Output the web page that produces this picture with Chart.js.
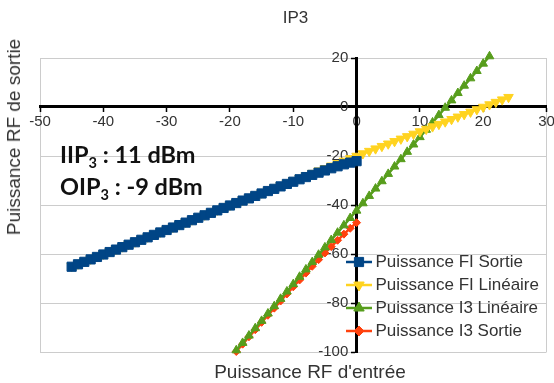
<!DOCTYPE html>
<html><head><meta charset="utf-8">
<script src="https://cdn.jsdelivr.net/npm/chart.js@4/dist/chart.umd.min.js"></script>
<style>
html,body{margin:0;padding:0;background:#fff;}
#wrap{position:relative;width:554px;height:383px;overflow:hidden;}
#c{position:absolute;left:0;top:0;}
.note{position:absolute;left:60px;font-family:Lato,'Open Sans',sans-serif;font-weight:700;font-size:23.5px;line-height:32px;color:#111;white-space:nowrap;}
.note sub{font-size:0.62em;line-height:0;vertical-align:-0.35em;}
.axt{position:absolute;font-family:'Liberation Sans',Arial,sans-serif;font-size:19px;color:#333;white-space:nowrap;transform-origin:50% 50%;}
</style></head><body>
<div id="wrap">
<canvas id="c" width="554" height="383"></canvas>
<div class="note" style="top:138px">IIP<sub>3</sub> : 11 dBm</div>
<div class="note" style="top:170px">OIP<sub>3</sub> : -9 dBm</div>
<div class="axt" id="xt"></div>
<div class="axt" id="yt"></div>
</div>
<script>
const chartTitle = 'IP3';
const xAxisTitle = "Puissance RF d'entrée";
const yAxisTitle = 'Puissance RF de sortie';
const seriesNames = ['Puissance FI Sortie', 'Puissance FI Linéaire', 'Puissance I3 Linéaire', 'Puissance I3 Sortie'];
const xTickValues = [-50, -40, -30, -20, -10, 0, 10, 20, 30];
const yTickValues = [20, 0, -20, -40, -60, -80, -100];

const inFiSortie = [-45,-44,-43,-42,-41,-40,-39,-38,-37,-36,-35,-34,-33,-32,-31,-30,-29,-28,-27,-26,-25,-24,-23,-22,-21,-20,-19,-18,-17,-16,-15,-14,-13,-12,-11,-10,-9,-8,-7,-6,-5,-4,-3,-2,-1,0];
const outFiSortie = [-65.2,-64.2,-63.2,-62.2,-61.2,-60.2,-59.2,-58.2,-57.2,-56.2,-55.2,-54.2,-53.2,-52.2,-51.2,-50.2,-49.2,-48.2,-47.2,-46.2,-45.2,-44.2,-43.2,-42.2,-41.2,-40.2,-39.2,-38.2,-37.3,-36.3,-35.3,-34.3,-33.4,-32.4,-31.4,-30.5,-29.5,-28.6,-27.7,-26.8,-25.9,-25.0,-24.2,-23.4,-22.7,-22.1];

const inFiLin = [-45,-44,-43,-42,-41,-40,-39,-38,-37,-36,-35,-34,-33,-32,-31,-30,-29,-28,-27,-26,-25,-24,-23,-22,-21,-20,-19,-18,-17,-16,-15,-14,-13,-12,-11,-10,-9,-8,-7,-6,-5,-4,-3,-2,-1,0,1,2,3,4,5,6,7,8,9,10,11,12,13,14,15,16,17,18,19,20,21,22,23,24];
const outFiLin = [-65,-64,-63,-62,-61,-60,-59,-58,-57,-56,-55,-54,-53,-52,-51,-50,-49,-48,-47,-46,-45,-44,-43,-42,-41,-40,-39,-38,-37,-36,-35,-34,-33,-32,-31,-30,-29,-28,-27,-26,-25,-24,-23,-22,-21,-20,-19,-18,-17,-16,-15,-14,-13,-12,-11,-10,-9,-8,-7,-6,-5,-4,-3,-2,-1,0,1,2,3,4];

const inI3Lin = [-19,-18,-17,-16,-15,-14,-13,-12,-11,-10,-9,-8,-7,-6,-5,-4,-3,-2,-1,0,1,2,3,4,5,6,7,8,9,10,11,12,13,14,15,16,17,18,19,20,21];
const outI3Lin = [-99.3,-96.3,-93.3,-90.3,-87.3,-84.3,-81.3,-78.3,-75.3,-72.3,-69.3,-66.3,-63.3,-60.3,-57.3,-54.3,-51.3,-48.3,-45.3,-42.3,-39.3,-36.3,-33.3,-30.3,-27.3,-24.3,-21.3,-18.3,-15.3,-12.3,-9.3,-6.3,-3.3,-0.3,2.7,5.7,8.7,11.7,14.7,17.7,20.7];

const inI3Sortie = [-19,-18,-17,-16,-15,-14,-13,-12,-11,-10,-9,-8,-7,-6,-5,-4,-3,-2,-1,0];
const outI3Sortie = [-99.8,-96.8,-93.8,-90.9,-87.9,-85.0,-82.1,-79.2,-76.3,-73.4,-70.6,-67.8,-65.0,-62.3,-59.6,-57.0,-54.4,-51.9,-49.5,-47.2];

const seriesColors = ['#004586', '#ffd320', '#579d1c', '#ff420e'];
const seriesMarkers = [
  {style: 'rect', radius: 6.5, rotation: 0, legendRadius: 6.5},
  {style: 'triangle', radius: 5.5, rotation: 180, legendRadius: 6},
  {style: 'triangle', radius: 5, rotation: 0, legendRadius: 6},
  {style: 'rectRot', radius: 4, rotation: 0, legendRadius: 5}
];
const seriesInputs = [inFiSortie, inFiLin, inI3Lin, inI3Sortie];
const seriesOutputs = [outFiSortie, outFiLin, outI3Lin, outI3Sortie];

document.getElementById('xt').textContent = xAxisTitle;
document.getElementById('yt').textContent = yAxisTitle;
(function placeTitles(){
  const xt = document.getElementById('xt');
  xt.style.left = '310px'; xt.style.top = '372px';
  xt.style.transform = 'translate(-50%,-50%)';
  const yt = document.getElementById('yt');
  yt.style.left = '14px'; yt.style.top = '137px';
  yt.style.transform = 'translate(-50%,-50%) rotate(-90deg)';
})();

function makeIcon(color, m) {
  const c = document.createElement('canvas');
  c.width = 26; c.height = 16;
  const g = c.getContext('2d');
  g.strokeStyle = color; g.fillStyle = color; g.lineWidth = 2.5;
  g.beginPath(); g.moveTo(0, 8); g.lineTo(26, 8); g.stroke();
  g.lineWidth = 1;
  Chart.helpers.drawPoint(g, {pointStyle: m.style, radius: m.legendRadius, rotation: m.rotation, borderWidth: 1}, 13, 8);
  return c;
}
const legendIcons = seriesColors.map((c, i) => makeIcon(c, seriesMarkers[i]));

const datasets = seriesNames.map((name, i) => ({
  label: name,
  data: seriesInputs[i].map((x, k) => ({x: x, y: seriesOutputs[i][k]})),
  borderColor: seriesColors[i],
  backgroundColor: seriesColors[i],
  borderWidth: 2.5,
  pointStyle: seriesMarkers[i].style,
  pointRadius: seriesMarkers[i].radius,
  pointRotation: seriesMarkers[i].rotation,
  pointBorderWidth: 1,
  pointBorderColor: seriesColors[i],
  pointBackgroundColor: seriesColors[i],
  tension: 0,
  clip: false,
  xAxisID: 'x',
  yAxisID: 'y'
}));

const legendMover = {
  id: 'legendMover',
  afterLayout(chart) {
    const lg = chart.legend;
    if (!lg) return;
    lg.left = 345; lg.right = 345 + lg.width;
    lg.top = 247.5; lg.bottom = 247.5 + 200;
  }
};

Chart.defaults.font.family = "'Liberation Sans', Arial, sans-serif";

new Chart(document.getElementById('c'), {
  type: 'line',
  data: {datasets: datasets},
  options: {
    responsive: false,
    animation: false,
    devicePixelRatio: 1,
    layout: {padding: {left: 40, right: 3, top: 0, bottom: 31}},
    plugins: {
      title: {display: true, text: chartTitle, color: '#333', font: {size: 17, weight: 'normal'}, padding: {top: 8, bottom: 29.6}},
      legend: {
        display: true,
        position: 'chartArea',
        align: 'start',
        labels: {
          usePointStyle: true,
          pointStyleWidth: 16,
          boxHeight: 16,
          padding: 6,
          color: '#333',
          font: {size: 17},
          generateLabels: (chart) => chart.data.datasets.map((ds, i) => ({
            text: ds.label, fillStyle: ds.borderColor, strokeStyle: ds.borderColor, lineWidth: 0,
            pointStyle: legendIcons[i], hidden: false, datasetIndex: i, fontColor: '#333'
          }))
        }
      },
      tooltip: {enabled: false}
    },
    scales: {
      x: {
        type: 'linear', min: -50, max: 30, position: {y: 0},
        afterBuildTicks: s => { s.ticks = xTickValues.map(v => ({value: v})); },
        afterFit: s => { s.paddingLeft = 0; s.paddingRight = 0; s.paddingTop = 0; s.paddingBottom = 0; },
        grid: {
          z: -2, drawOnChartArea: true, drawTicks: true, tickLength: 4, tickWidth: 1.5, lineWidth: 1,
          color: ctx => (ctx.tick && (ctx.tick.value === xTickValues[0] || ctx.tick.value === xTickValues[xTickValues.length - 1])) ? '#cccccc' : 'rgba(0,0,0,0)',
          tickColor: '#000'
        },
        border: {display: true, color: '#000', width: 3, z: -1},
        ticks: {z: -1, color: '#333', font: {size: 15}, padding: 2, maxRotation: 0, autoSkip: false}
      },
      y: {
        type: 'linear', min: -100, max: 20, position: {x: 0},
        afterBuildTicks: s => { s.ticks = yTickValues.map(v => ({value: v})); },
        afterFit: s => { s.paddingTop = 0; s.paddingBottom = 0; },
        grid: {z: -2, drawOnChartArea: true, drawTicks: true, tickLength: 4, tickWidth: 1.5, lineWidth: 1, color: '#cccccc', tickColor: '#000'},
        border: {display: true, color: '#000', width: 3, z: -1},
        ticks: {z: -1, color: '#333', font: {size: 15}, autoSkip: false, callback: v => v + '\u00a0\u00a0'}
      }
    }
  },
  plugins: [legendMover]
});
</script>
</body></html>
